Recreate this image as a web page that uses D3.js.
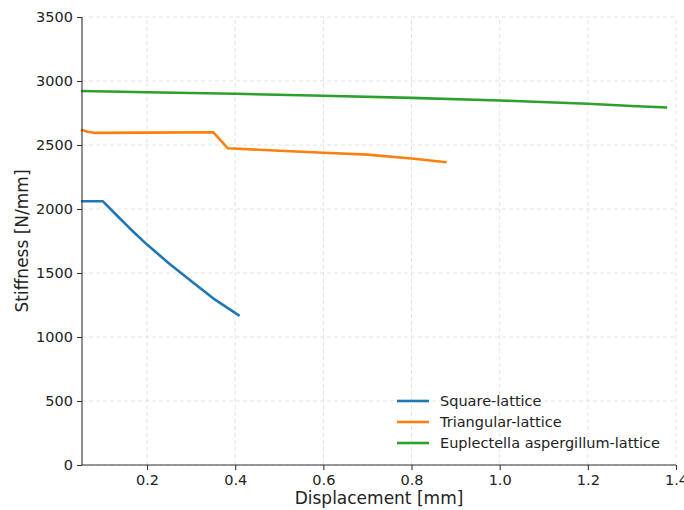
<!DOCTYPE html>
<html>
<head>
<meta charset="utf-8">
<script src="https://cdn.jsdelivr.net/npm/d3@7"></script>
<style>
  body { margin: 0; background: #fff; }
  svg { font-family: "DejaVu Sans", sans-serif; }
</style>
</head>
<body>
<div class="canvas"></div>
<script>
// series
const squareX = [0.05, 0.1, 0.13, 0.16, 0.2, 0.25, 0.3, 0.35, 0.41];
const squareY = [2060, 2060, 1955, 1852, 1722, 1575, 1437, 1302, 1165];

const triX = [0.05, 0.065, 0.08, 0.2, 0.35, 0.383, 0.5, 0.6, 0.7, 0.8, 0.88];
const triY = [2620, 2603, 2595, 2597, 2600, 2475, 2455, 2440, 2425, 2395, 2365];

const euplX = [0.05, 0.2, 0.4, 0.6, 0.8, 1.0, 1.2, 1.3, 1.38];
const euplY = [2922, 2912, 2900, 2885, 2868, 2848, 2822, 2805, 2793];

const seriesNames = ["Square-lattice", "Triangular-lattice", "Euplectella aspergillum-lattice"];
const seriesColors = ["#1f77b4", "#ff7f0e", "#2ca02c"];

const xTicks = [0.2, 0.4, 0.6, 0.8, 1.0, 1.2, 1.4];
const yTicks = [0, 500, 1000, 1500, 2000, 2500, 3000, 3500];

const width = 684;
const height = 510;
const margin = { top: 17, right: 8, bottom: 45, left: 82 };

const svg = d3
  .select(".canvas")
  .append("svg")
  .attr("width", width)
  .attr("height", height);

const x = d3.scaleLinear().domain([0.0525, 1.4]).range([margin.left, width - margin.right]);
const y = d3.scaleLinear().domain([0, 3500]).range([height - margin.bottom, margin.top]);

// grid
svg
  .append("g")
  .selectAll("line")
  .data(xTicks)
  .enter()
  .append("line")
  .attr("x1", (d) => x(d))
  .attr("x2", (d) => x(d))
  .attr("y1", y(0))
  .attr("y2", y(3500))
  .attr("stroke", "#dcdcdc")
  .attr("stroke-width", 0.8)
  .attr("stroke-dasharray", "4,3");

svg
  .append("g")
  .selectAll("line")
  .data(yTicks)
  .enter()
  .append("line")
  .attr("x1", x.range()[0])
  .attr("x2", x.range()[1])
  .attr("y1", (d) => y(d))
  .attr("y2", (d) => y(d))
  .attr("stroke", "#dcdcdc")
  .attr("stroke-width", 0.8)
  .attr("stroke-dasharray", "4,3");

// lines
const data = [
  squareX.map((v, i) => [v, squareY[i]]),
  triX.map((v, i) => [v, triY[i]]),
  euplX.map((v, i) => [v, euplY[i]])
];

const line = d3
  .line()
  .x((d) => x(d[0]))
  .y((d) => y(d[1]));

data.forEach((points, i) => {
  svg
    .append("path")
    .datum(points)
    .attr("fill", "none")
    .attr("stroke", seriesColors[i])
    .attr("stroke-width", 2.6)
    .attr("stroke-linejoin", "round")
    .attr("d", line);
});

// axes
const xAxis = svg
  .append("g")
  .attr("transform", `translate(0,${y(0)})`)
  .call(d3.axisBottom(x).tickValues(xTicks).tickFormat(d3.format(".1f")).tickSize(5).tickPadding(5));

const yAxis = svg
  .append("g")
  .attr("transform", `translate(${x.range()[0]},0)`)
  .call(d3.axisLeft(y).tickValues(yTicks).tickFormat(d3.format("d")).tickSize(5).tickPadding(4));

[xAxis, yAxis].forEach((g) => {
  g.select(".domain").attr("stroke", "#333").attr("stroke-width", 1.1);
  g.selectAll(".tick line").attr("stroke", "#333").attr("stroke-width", 1.1);
  g.selectAll(".tick text")
    .attr("fill", "#222")
    .style("font-size", "14.5px")
    .style("font-family", "DejaVu Sans");
});
xAxis.select(".domain").attr("d", `M${x.range()[0]},0H${x.range()[1]}`);
yAxis.select(".domain").attr("d", `M0,${y(0)}V${y(3500)}`);

svg
  .append("text")
  .text("Displacement [mm]")
  .attr("x", (x.range()[0] + x.range()[1]) / 2)
  .attr("y", 504)
  .attr("text-anchor", "middle")
  .style("font-size", "17px")
  .attr("fill", "#222");

svg
  .append("text")
  .text("Stiffness [N/mm]")
  .attr("transform", `translate(28,${(y(0) + y(3500)) / 2}) rotate(-90)`)
  .attr("text-anchor", "middle")
  .style("font-size", "17px")
  .attr("fill", "#222");

// legend
const legend = svg
  .append("g")
  .selectAll("g")
  .data(seriesNames)
  .enter()
  .append("g")
  .attr("transform", (name, index) => `translate(397,${401 + index * 21})`);

legend
  .append("line")
  .attr("x1", 0)
  .attr("x2", 32)
  .attr("stroke", (name, index) => seriesColors[index])
  .attr("stroke-width", 2.6);

legend
  .append("text")
  .text((name) => name)
  .attr("x", 43)
  .attr("y", 5)
  .style("font-size", "14.5px")
  .attr("fill", "#222");
</script>
</body>
</html>
